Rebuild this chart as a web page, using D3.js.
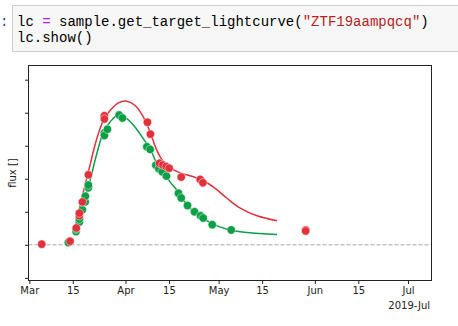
<!DOCTYPE html>
<html>
<head>
<meta charset="utf-8">
<script src="https://cdn.jsdelivr.net/npm/d3@7"></script>
<style>
  html, body { margin: 0; padding: 0; background: #fff; }
  svg { display: block; }
</style>
</head>
<body>
<svg id="chart" width="458" height="326"></svg>
<script>
// ---- data (days since 2019-03-01, flux in arbitrary units) ----
const rDays = [4.0, 13.13, 15.16, 16.13, 16.13, 17.10, 19.03, 24.19, 24.19, 38.06, 39.03, 41.94, 43.03, 44.10, 45.06, 48.94, 55.06, 55.94, 89.03, 89.03];
const rFlux = [0.02, 0.11, 0.51, 0.88, 0.96, 1.30, 2.12, 3.91, 3.81, 3.71, 3.35, 2.47, 2.42, 2.37, 2.32, 2.05, 1.98, 1.88, 0.45, 0.42];

const gDays = [12.58, 15.06, 15.06, 16.13, 16.13, 17.10, 18.0, 18.06, 19.03, 19.03, 24.19, 24.19, 25.16, 28.94, 30.0, 37.87, 38.94, 40.77, 41.74, 42.81, 44.19, 48.06, 48.94, 50.97, 53.23, 55.16, 56.03, 58.94, 65.06];
const gFlux = [0.07, 0.40, 0.48, 0.69, 0.78, 1.06, 1.30, 1.47, 1.73, 1.81, 3.39, 3.31, 3.50, 3.93, 3.84, 2.97, 2.89, 2.41, 2.30, 2.21, 2.08, 1.56, 1.42, 1.19, 1.00, 0.88, 0.81, 0.61, 0.45];

const rModelDays = [14.74, 16.9, 19.03, 21.74, 23.87, 26.03, 28.71, 31.42, 34.10, 36.77, 38.94, 41.10, 43.23, 45.39, 48.61, 52.90, 56.68, 59.90, 63.68, 67.97, 73.35, 79.81];
const rModelFlux = [0.55, 1.40, 2.21, 3.21, 3.77, 4.07, 4.30, 4.35, 4.22, 3.87, 3.41, 2.86, 2.51, 2.33, 2.18, 2.06, 1.91, 1.71, 1.41, 1.11, 0.88, 0.73];

const gModelDays = [14.74, 16.9, 19.03, 21.74, 23.87, 26.03, 28.71, 31.42, 34.10, 36.77, 38.94, 41.10, 43.23, 45.39, 47.55, 50.77, 54.0, 58.29, 63.68, 70.13, 79.81];
const gModelFlux = [0.40, 1.10, 1.75, 2.76, 3.41, 3.72, 3.94, 3.82, 3.56, 3.21, 2.91, 2.46, 2.21, 1.90, 1.66, 1.21, 0.93, 0.67, 0.47, 0.37, 0.31];

const xTickDates = ["2019-03-01", "2019-03-15", "2019-04-01", "2019-04-15", "2019-05-01", "2019-05-15", "2019-06-01", "2019-06-15", "2019-07-01"];
const xTickLabels = ["Mar", "15", "Apr", "15", "May", "15", "Jun", "15", "Jul"];
const xOffsetLabel = "2019-Jul";
const yTicks = [-1, 0, 1, 2, 3, 4, 5];
const yLabel = "flux []";

const codeLine1 = [["lc ", "#000"], ["=", "#aa22ff"], [" sample.get_target_lightcurve(", "#000"], ["\"ZTF19aampqcq\"", "#ba2121"], [")", "#000"]];
const codeLine2 = [["lc.show()", "#000"]];

// ---- drawing ----
const svg = d3.select("#chart");
const RED = "#e3313c", GREEN = "#0c9f45";
const day0 = Date.UTC(2019, 2, 1);
const toDate = d => new Date(day0 + d * 86400000);

// code cell
svg.append("rect").attr("x", 12.5).attr("y", 5.5).attr("width", 470).attr("height", 46)
  .attr("fill", "#f7f7f7").attr("stroke", "#cfcfcf");
svg.append("text").attr("x", 0).attr("y", 26).attr("font-family", "Liberation Mono, monospace")
  .attr("font-size", 14).attr("fill", "#303f9f").text(":");
function codeText(parts, y) {
  const t = svg.append("text").attr("x", 17).attr("y", y)
    .attr("font-family", "Liberation Mono, DejaVu Sans Mono, monospace").attr("font-size", 14)
    .attr("xml:space", "preserve").style("white-space", "pre");
  parts.forEach(p => t.append("tspan").attr("fill", p[1]).text(p[0]));
}
codeText(codeLine1, 26);
codeText(codeLine2, 42);

// plot area
const L = 28.5, R = 431.5, T = 65.5, B = 280.5;
const x = d3.scaleUtc().domain([toDate(-0.26), toDate(129.58)]).range([L, R]);
const y = d3.scaleLinear().domain([-1.08, 5.43]).range([B, T]);

// zero line
svg.append("line").attr("x1", L).attr("x2", R).attr("y1", y(0)).attr("y2", y(0))
  .attr("stroke", "#a8a8a8").attr("stroke-width", 1).attr("stroke-dasharray", "4,2");

// model curves
const line = d3.line().x(d => x(toDate(d[0]))).y(d => y(d[1])).curve(d3.curveCatmullRom.alpha(0.5));
svg.append("path").datum(d3.zip(rModelDays, rModelFlux)).attr("d", line)
  .attr("fill", "none").attr("stroke", RED).attr("stroke-width", 1.5);
svg.append("path").datum(d3.zip(gModelDays, gModelFlux)).attr("d", line)
  .attr("fill", "none").attr("stroke", GREEN).attr("stroke-width", 1.5);

// points
function pts(days, flux, color) {
  svg.append("g").selectAll("circle").data(d3.zip(days, flux)).join("circle")
    .attr("cx", d => x(toDate(d[0]))).attr("cy", d => y(d[1])).attr("r", 4.2)
    .attr("fill", color).attr("stroke", "#ffffff").attr("stroke-opacity", 0.6).attr("stroke-width", 0.8);
}
pts(gDays, gFlux, GREEN);
pts(rDays, rFlux, RED);

// frame
svg.append("rect").attr("x", L).attr("y", T).attr("width", R - L).attr("height", B - T)
  .attr("fill", "none").attr("stroke", "#222").attr("stroke-width", 1);

// x axis
const xAxis = d3.axisBottom(x).tickValues(xTickDates.map(s => new Date(s + "T00:00:00Z")))
  .tickFormat((d, i) => xTickLabels[i]).tickSize(3.5).tickPadding(3);
const gx = svg.append("g").attr("transform", `translate(0,${B})`).call(xAxis);
gx.select(".domain").remove();
gx.selectAll("line").attr("stroke", "#222");
gx.selectAll("text").attr("font-family", "DejaVu Sans, sans-serif").attr("font-size", 10).attr("fill", "#222");
svg.append("text").attr("x", 430).attr("y", 309).attr("text-anchor", "end")
  .attr("font-family", "DejaVu Sans, sans-serif").attr("font-size", 10).attr("fill", "#222").text(xOffsetLabel);

// y axis (ticks, no labels)
const yAxis = d3.axisLeft(y).tickValues(yTicks).tickFormat("").tickSize(3.5);
const gy = svg.append("g").attr("transform", `translate(${L},0)`).call(yAxis);
gy.select(".domain").remove();
gy.selectAll("line").attr("stroke", "#222");

svg.append("text").attr("transform", `translate(16,${(T + B) / 2}) rotate(-90)`).attr("text-anchor", "middle")
  .attr("font-family", "DejaVu Sans, sans-serif").attr("font-size", 10).attr("fill", "#222").text(yLabel);
</script>
</body>
</html>
